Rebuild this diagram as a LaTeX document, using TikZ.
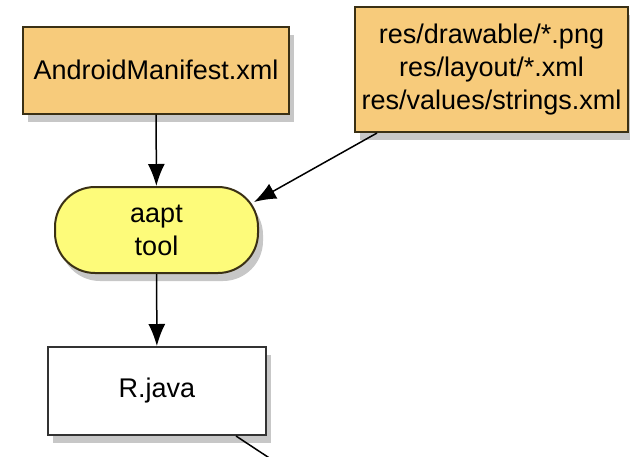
\documentclass[tikz,border=0pt]{standalone}
\usepackage{fontspec}
\setmainfont{Liberation Sans}
\usetikzlibrary{arrows.meta,shadows}

\definecolor{boxorange}{RGB}{247,203,123}
\definecolor{toolyellow}{RGB}{253,251,122}
\definecolor{edgebrown}{RGB}{58,48,20}

\tikzset{
    filebox/.style={draw=edgebrown, line width=2pt, fill=boxorange, align=center,
        font=\fontsize{27}{33}\selectfont,
        drop shadow={shadow xshift=5pt, shadow yshift=-8pt, fill=black, opacity=0.22}},
    toolbox/.style={filebox, fill=toolyellow, rounded corners=40pt},
    outbox/.style={filebox, draw=black!80, fill=white},
    flow/.style={line width=1.5pt, -{Latex[length=22pt,width=17pt]}}
}

\begin{document}
\begin{tikzpicture}[x=1pt, y=-1pt]

\clip (0, 0) rectangle (630, 456);
\fill[white] (0, 0) rectangle (630, 456);

\node[filebox, minimum width=266pt, minimum height=87pt] (manifest) at (156, 70) {AndroidManifest.xml};
\node[filebox, minimum width=273pt, minimum height=125pt] (res) at (491.5, 69.5)
    {res/drawable/*.png\\res/layout/*.xml\\res/values/strings.xml};

\node[toolbox, minimum width=203pt, minimum height=86pt] (aapt) at (156.5, 230) {aapt\\tool};

\node[outbox, minimum width=218pt, minimum height=88pt] (rjava) at (157, 391) {R.java};

% connectors
\draw[flow] (manifest) -- (aapt);
\draw[flow] ([xshift=23pt]res.south west) -- ([xshift=-5pt, yshift=28pt]aapt.east);
\draw[flow] (aapt) -- (rjava);

\coordinate (next) at (330, 498);
\draw[line width=1.5pt] ([xshift=-31pt]rjava.south east) -- (next);

\end{tikzpicture}
\end{document}
